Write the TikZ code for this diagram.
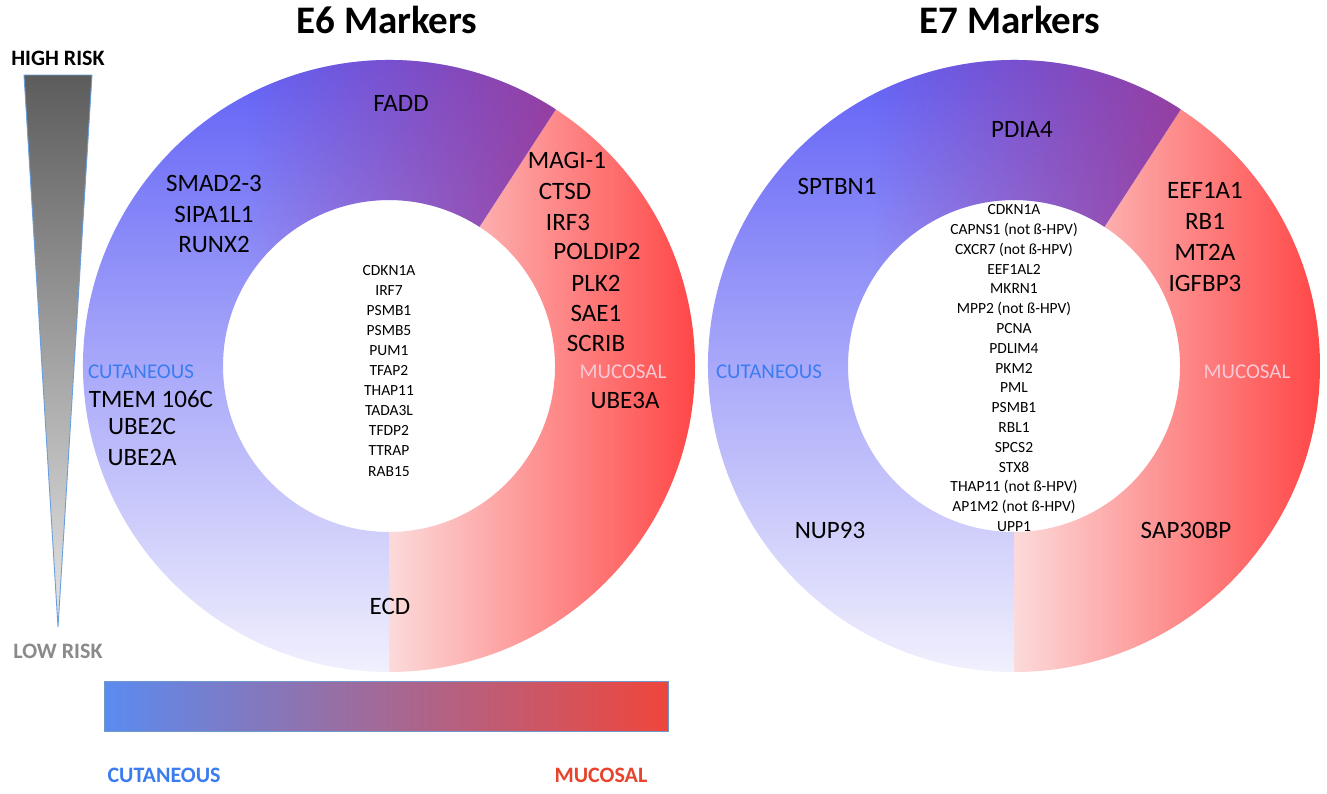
\documentclass[tikz,border=0pt]{standalone}
\usepackage{fontspec}
\setmainfont{Carlito}
\usetikzlibrary{fadings}

\definecolor{ringblue}{HTML}{5F5FF6}
\definecolor{ringpale}{HTML}{F2F1FD}
\definecolor{ringpurple}{HTML}{983C9C}
\definecolor{redpale}{HTML}{FCDADA}
\definecolor{redfull}{HTML}{FF4646}
\definecolor{cuttext}{HTML}{3B7CF0}
\definecolor{muctext}{HTML}{F8CAD6}
\definecolor{mucbold}{HTML}{E8432C}
\definecolor{riskdark}{HTML}{5C5C5C}
\definecolor{risklight}{HTML}{E6E6E6}
\definecolor{edgeblue}{HTML}{6A9FDC}
\definecolor{barblue}{HTML}{5A8BF0}
\definecolor{barmid}{HTML}{AB66A2}
\definecolor{barred}{HTML}{EF463B}
\definecolor{lowgray}{HTML}{8A8A8A}

\tikzfading[name=fade to right, left color=transparent!100, right color=transparent!0]

\tikzset{
  gene/.style={inner sep=0pt,font=\fontsize{25}{30}\selectfont},
  genelist/.style={inner sep=0pt,font=\fontsize{15.5}{18}\selectfont},
  side/.style={inner sep=0pt,font=\fontsize{21}{25}\selectfont},
  heading/.style={inner sep=0pt,font=\bfseries\fontsize{39}{46}\selectfont},
  risklabel/.style={inner sep=0pt,font=\bfseries\fontsize{22}{26}\selectfont},
}

\begin{document}
\begin{tikzpicture}[x=1pt,y=-1pt]
\useasboundingbox[fill=white] (0,0) rectangle (1327,793);

% the two donuts
\foreach \cx in {389,1014}{
  \begin{scope}[shift={(\cx,366)}]
    \begin{scope}
      \clip (90:306) arc[start angle=90,end angle=-57,radius=306] -- (-57:166) arc[start angle=-57,end angle=90,radius=166] -- cycle;
      \shade[left color=redpale,right color=redfull] (0,-310) rectangle (307,310);
    \end{scope}
    \begin{scope}
      \clip (-57:306) arc[start angle=-57,end angle=-270,radius=306] -- (-270:166) arc[start angle=-270,end angle=-57,radius=166] -- cycle;
      \shade[top color=ringblue,bottom color=ringpale] (-310,-310) rectangle (310,310);
      \fill[ringpurple,path fading=fade to right] (-140,-316) rectangle (186,-66);
    \end{scope}
  \end{scope}
}

\node[heading] (e6title) at (387,20) {E6 Markers};
\node[heading] (e7title) at (1010,20) {E7 Markers};

% E6
\node[gene] (fadd) at (401,103) {FADD};
\foreach \g/\x/\y [count=\i] in {MAGI-1/567/160,CTSD/565/191,IRF3/568/222,POLDIP2/597/251,PLK2/596/283,SAE1/596/313,SCRIB/596/343,UBE3A/625/400}
  \node[gene] (e6muc\i) at (\x,\y) {\g};
\foreach \g/\x/\y [count=\i] in {SMAD2-3/214/183,SIPA1L1/214/214,RUNX2/214/244,TMEM 106C/151/399,UBE2C/142/426,UBE2A/142/457}
  \node[gene] (e6cut\i) at (\x,\y) {\g};
\node[gene] (ecd) at (390,606) {ECD};
\node[side,text=cuttext] (e6cutlabel) at (141,372) {CUTANEOUS};
\node[side,text=muctext] (e6muclabel) at (623,372) {MUCOSAL};
\foreach \g [count=\i] in {CDKN1A,IRF7,PSMB1,PSMB5,PUM1,TFAP2,THAP11,TADA3L,TFDP2,TTRAP,RAB15}
  \node[genelist] (e6core\i) at (389,{250+20.1*\i}) {\g};

% E7
\node[gene] (pdia4) at (1022,129) {PDIA4};
\node[gene] (sptbn1) at (837,186) {SPTBN1};
\foreach \g/\y [count=\i] in {EEF1A1/190,RB1/221,MT2A/252,IGFBP3/283}
  \node[gene] (e7muc\i) at (1205,\y) {\g};
\node[gene] (nup93) at (830,530) {NUP93};
\node[gene] (sap30bp) at (1186,530) {SAP30BP};
\node[side,text=cuttext] (e7cutlabel) at (769,372) {CUTANEOUS};
\node[side,text=muctext] (e7muclabel) at (1247,372) {MUCOSAL};
\foreach \g [count=\i] in {CDKN1A,{CAPNS1 (not ß-HPV)},{CXCR7 (not ß-HPV)},EEF1AL2,MKRN1,{MPP2 (not ß-HPV)},PCNA,PDLIM4,PKM2,PML,PSMB1,RBL1,SPCS2,STX8,{THAP11 (not ß-HPV)},{AP1M2 (not ß-HPV)},UPP1}
  \node[genelist] (e7core\i) at (1014,{190+19.8*\i}) {\g};

% risk wedge
\coordinate (tipleft) at (24,75);
\coordinate (tipright) at (92,75);
\coordinate (apex) at (58,627);
\shade[top color=riskdark,bottom color=risklight] (tipleft) -- (tipright) -- (apex) -- cycle;
\draw[edgeblue,line width=0.9pt,line join=round] (tipleft) -- (tipright) -- (apex) -- cycle;
\node[risklabel] (highrisk) at (58,58) {HIGH RISK};
\node[risklabel,text=lowgray] (lowrisk) at (58,651) {LOW RISK};

% colour bar
\shade[left color=barblue,middle color=barmid,right color=barred] (104,681) rectangle (668,731);
\draw[edgeblue!80!gray,line width=0.8pt] (104,681) rectangle (668,731);
\node[risklabel,text=cuttext] (barcut) at (164,775) {CUTANEOUS};
\node[risklabel,text=mucbold] (barmuc) at (601,775) {MUCOSAL};
\end{tikzpicture}
\end{document}
